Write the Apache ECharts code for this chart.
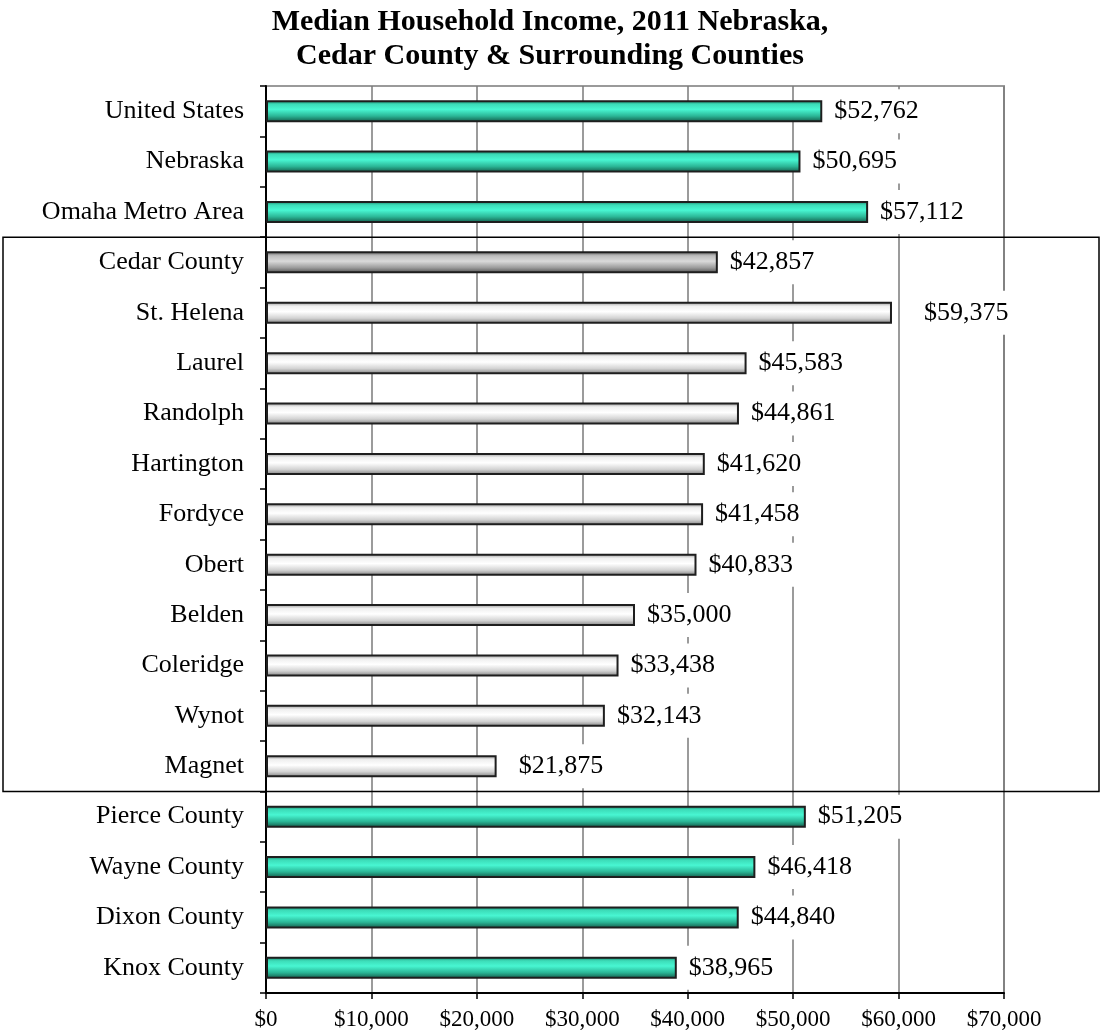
<!DOCTYPE html>
<html>
<head>
<meta charset="utf-8">
<script src="https://cdn.jsdelivr.net/npm/echarts@6/dist/echarts.min.js"></script>
<style>
  html, body { margin: 0; padding: 0; background: #fff; }
  #chart { width: 1100px; height: 1034px; }
</style>
</head>
<body>
<div id="chart"></div>
<script>
const categories = [
  "United States", "Nebraska", "Omaha Metro Area", "Cedar County", "St. Helena",
  "Laurel", "Randolph", "Hartington", "Fordyce", "Obert", "Belden", "Coleridge",
  "Wynot", "Magnet", "Pierce County", "Wayne County", "Dixon County", "Knox County"
];
const incomes = [
  52762, 50695, 57112, 42857, 59375, 45583, 44861, 41620, 41458, 40833, 35000,
  33438, 32143, 21875, 51205, 46418, 44840, 38965
];
// "ref" = state/nation/county comparisons, "cedar" = Cedar County, "town" = towns in Cedar County
const groups = [
  "ref", "ref", "ref", "cedar", "town", "town", "town", "town", "town", "town",
  "town", "town", "town", "town", "ref", "ref", "ref", "ref"
];
const xTicks = [0, 10000, 20000, 30000, 40000, 50000, 60000, 70000];

const serif = "'Liberation Serif', 'Times New Roman', serif";

const fills = {
  ref: [[0, "#17705b"], [0.18, "#3cdcb8"], [0.42, "#48f6d2"], [0.72, "#2bb696"], [1, "#125545"]],
  cedar: [[0, "#5a5a5a"], [0.2, "#bdbdbd"], [0.45, "#d9d9d9"], [0.75, "#9a9a9a"], [1, "#4a4a4a"]],
  town: [[0, "#8c8c8c"], [0.2, "#efefef"], [0.45, "#ffffff"], [0.75, "#d2d2d2"], [1, "#7a7a7a"]]
};

function grad(stops) {
  return new echarts.graphic.LinearGradient(0, 0, 0, 1,
    stops.map(s => ({ offset: s[0], color: s[1] })));
}

function money(v) {
  return "$" + Number(v).toLocaleString("en-US");
}

const labelNudge = { "St. Helena": 20, "Magnet": 10 };

const barData = incomes.map((v, i) => {
  const item = {
    value: v,
    itemStyle: { color: grad(fills[groups[i]]) }
  };
  if (labelNudge[categories[i]]) {
    item.label = { offset: [labelNudge[categories[i]], 0] };
  }
  return item;
});

const chart = echarts.init(document.getElementById("chart"), null, { renderer: "canvas" });

const option = {
  backgroundColor: "#fff",
  animation: false,
  title: {
    text: "Median Household Income, 2011 Nebraska,\nCedar County & Surrounding Counties",
    left: "center",
    top: 0,
    textStyle: {
      fontFamily: serif,
      fontWeight: "bold",
      fontSize: 30,
      lineHeight: 34,
      color: "#000"
    }
  },
  grid: {
    left: 266,
    right: 96,
    top: 86,
    bottom: 41,
    show: true,
    borderColor: "#9a9a9a",
    borderWidth: 2,
    containLabel: false
  },
  xAxis: {
    type: "value",
    min: 0,
    max: 70000,
    interval: 10000,
    axisLine: { show: true, lineStyle: { color: "#000", width: 2 } },
    axisTick: { show: true, length: 6, lineStyle: { color: "#000", width: 1.5 } },
    splitLine: { show: true, lineStyle: { color: "#7a7a7a", width: 1.5 } },
    axisLabel: {
      fontFamily: serif,
      fontSize: 23,
      color: "#000",
      margin: 15,
      formatter: v => xTicks.includes(v) ? money(v) : ""
    }
  },
  yAxis: {
    type: "category",
    data: categories,
    inverse: true,
    axisLine: { show: true, lineStyle: { color: "#000", width: 2 } },
    axisTick: { show: true, length: 6, lineStyle: { color: "#000", width: 1.5 } },
    axisLabel: {
      fontFamily: serif,
      fontSize: 26,
      color: "#000",
      margin: 22
    }
  },
  series: [
    {
      type: "bar",
      data: barData,
      barWidth: 22,
      itemStyle: { borderColor: "#1e1e1e", borderWidth: 2 },
      label: {
        show: true,
        position: "right",
        distance: 8,
        fontFamily: serif,
        fontSize: 26,
        color: "#000",
        backgroundColor: "#fff",
        padding: [9, 4],
        formatter: p => money(p.value)
      },
      z: 3
    }
  ]
};

chart.setOption(option);

// frame around Cedar County and its towns, lined up with the category bands
const firstIdx = groups.indexOf("cedar");
const lastIdx = groups.lastIndexOf("town");
const yFirst = chart.convertToPixel({ yAxisIndex: 0 }, categories[firstIdx]);
const yLast = chart.convertToPixel({ yAxisIndex: 0 }, categories[lastIdx]);
const band = (yLast - yFirst) / (lastIdx - firstIdx);
const boxTop = yFirst - band / 2;
const boxBottom = yLast + band / 2;

chart.setOption({
  graphic: [
    {
      type: "rect",
      shape: { x: 3, y: boxTop, width: 1096, height: boxBottom - boxTop },
      style: { fill: "none", stroke: "#000", lineWidth: 1.5 },
      z: 10,
      silent: true
    }
  ]
});
</script>
</body>
</html>
